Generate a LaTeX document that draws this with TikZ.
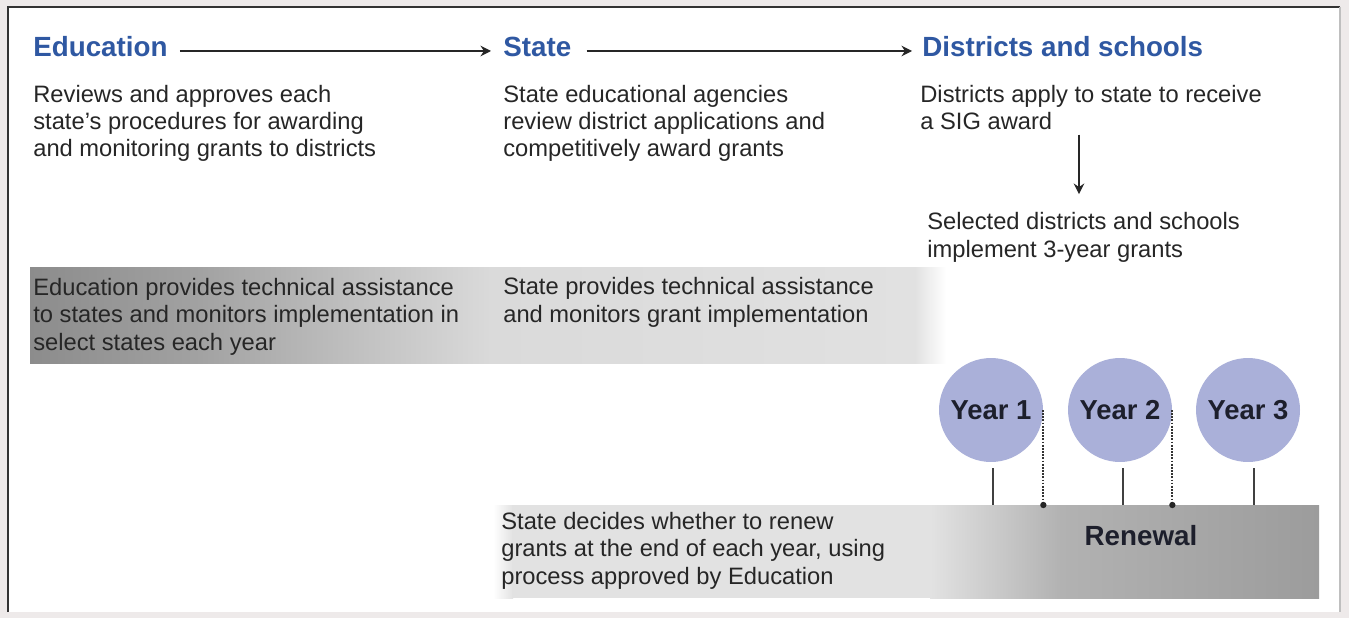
\documentclass[tikz,border=0pt]{standalone}
\usepackage{fontspec}
\setmainfont{Liberation Sans}
\usetikzlibrary{positioning,calc,arrows.meta}
\definecolor{headblue}{HTML}{2F58A2}
\definecolor{bodygray}{HTML}{262626}
\definecolor{yearfill}{HTML}{AAB0D9}
\definecolor{yeartext}{HTML}{1D1F2C}
\definecolor{pagebg}{HTML}{EEEAEA}
\definecolor{banddark}{HTML}{8C8C8C}
\definecolor{bandmid}{HTML}{A2A2A2}
\definecolor{bandlight}{HTML}{DADADA}
\definecolor{bandpale}{HTML}{E1E1E1}
\definecolor{renewlight}{HTML}{E2E2E2}
\definecolor{renewmid}{HTML}{B2B2B2}
\definecolor{renewdark}{HTML}{9C9C9C}
\newcommand{\bodyfont}{\fontsize{13.5}{15.6}\selectfont}
\newcommand{\headfont}{\fontsize{15.8}{18}\selectfont\bfseries}

\begin{document}
\begin{tikzpicture}[x=0.02cm,y=-0.02cm,>={Stealth[length=6pt,width=6pt,inset=2pt]}]
      \tikzstyle{every node}=[inner sep=0pt]
      \tikzstyle{head}=[font=\headfont,text=headblue,anchor=base west]
      \tikzstyle{body}=[font=\bodyfont,text=bodygray,align=left,anchor=base west]
      \tikzstyle{year}=[circle,fill=yearfill,minimum size=2.08cm,font=\fontsize{15.6}{18}\selectfont\bfseries,text=yeartext]
      \tikzstyle{flow}=[->,line width=0.8pt,black!85]
      \tikzstyle{tick}=[line width=1.1pt,black!75]
      \tikzstyle{renewline}=[dash pattern=on 1pt off 0.8pt,line width=1.2pt,black!80]
      \useasboundingbox (0,0) rectangle (1349,618);
      % frame
      \fill[pagebg] (0,0) rectangle (1349,618);
      \fill[white] (8,7) rectangle (1340,612);
      \draw[black!80,line width=0.8pt] (8,612) -- (8,7) -- (1340,7);
      \draw[black!25,line width=1.5pt] (1340,7) -- (1340,612);
      % grey band behind the assistance texts
      \shade[left color=banddark,right color=bandmid] (30,268) rectangle (201,363);
      \shade[left color=bandmid,right color=bandlight] (200,268) rectangle (491,363);
      \shade[left color=bandlight,right color=bandpale] (490,268) rectangle (916,363);
      \shade[left color=bandpale,right color=white] (915,268) rectangle (946,363);
      % renewal bar
      \shade[left color=white,right color=renewlight] (493,505) rectangle (513,598);
      \fill[renewlight] (512,505) rectangle (931,598);
      \shade[left color=renewlight,right color=renewmid] (930,505) rectangle (1061,598);
      \shade[left color=renewmid,right color=renewdark] (1060,505) rectangle (1319,598);
      \coordinate (bartop) at (1319,505);
      % 
      \node [head] (edu)   at (33,57)  {Education};
      \node [head] (state) at (503,57) {State};
      \node [head] (dist)  at (922,57) {Districts and schools};
      \draw[flow] ($(edu.base east)+(12,-6)$) -- ($(state.base west)+(-12,-6)$);
      \draw[flow] ($(state.base east)+(15,-6)$) -- ($(dist.base west)+(-10,-6)$);
      % (base of a multi-line node = baseline of its last line)
      \node [body] (edurev)   at (33,157)  {Reviews and approves each\\state’s procedures for awarding\\and monitoring grants to districts};
      \node [body] (staterev) at (503,157) {State educational agencies\\review district applications and\\competitively award grants};
      \node [body] (apply)    at (920,130) {Districts apply to state to receive\\a SIG award};
      \node [body] (impl)     at (927,257) {Selected districts and schools\\implement 3-year grants};
      \coordinate (down) at (1079,0);
      \draw[flow] ($(apply.south -| down)+(0,4)$) -- ($(impl.north -| down)+(0,-18)$);
      % 
      \node [body] (eduta)    at (33,350)  {Education provides technical assistance\\to states and monitors implementation in\\select states each year};
      \node [body] (stateta)  at (503,322) {State provides technical assistance\\and monitors grant implementation};
      \node [body] (renewtxt) at (501,584) {State decides whether to renew\\grants at the end of each year, using\\process approved by Education};
      \node [font=\headfont,text=yeartext,anchor=base] (renew) at (1141,545) {Renewal};
      % 
      \foreach \i/\x/\d in {1/991/2,2/1120/3,3/1248/6}{
        \node [year] (y\i) at (\x,410) {Year \i};
        \draw[tick] ($(y\i.south)+(\d,6)$) -- ($(y\i.south |- bartop)+(\d,0)$);
      }
      \foreach \i in {1,2}{
        \draw[renewline] (y\i.east) -- (y\i.east |- bartop);
        \fill[black!85] (y\i.east |- bartop) circle (1.8pt);
      }
    \end{tikzpicture}
\end{document}
